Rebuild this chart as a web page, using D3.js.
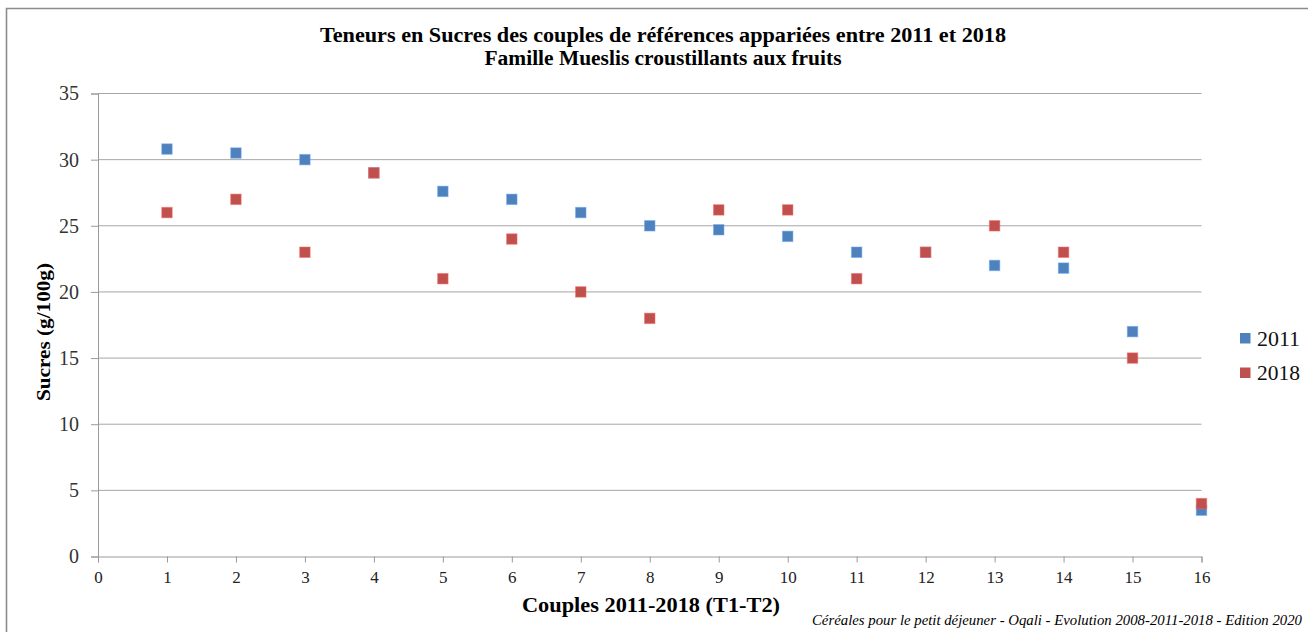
<!DOCTYPE html>
<html>
<head>
<meta charset="utf-8">
<script src="https://cdn.jsdelivr.net/npm/d3@7"></script>
<style>
  html, body { margin: 0; padding: 0; background: #fff; }
  svg { display: block; }
</style>
</head>
<body>
<svg id="chart" width="1308" height="632"></svg>
<script>
// Paired references: sugar content (g/100g) in 2011 and in 2018
const couples = [1, 2, 3, 4, 5, 6, 7, 8, 9, 10, 11, 12, 13, 14, 15, 16];
const sucres2011 = [30.8, 30.5, 30.0, 29.0, 27.6, 27.0, 26.0, 25.0, 24.7, 24.2, 23.0, 23.0, 22.0, 21.8, 17.0, 3.5];
const sucres2018 = [26.0, 27.0, 23.0, 29.0, 21.0, 24.0, 20.0, 18.0, 26.2, 26.2, 21.0, 23.0, 25.0, 23.0, 15.0, 4.0];
const xTicks = d3.range(0, 17);
const yTicks = [0, 5, 10, 15, 20, 25, 30, 35];
const seriesNames = ["2011", "2018"];
const seriesColors = ["#4f81bd", "#c0504d"];

const svg = d3.select("#chart");
const serif = "'Liberation Serif', 'DejaVu Serif', serif";

// outer frame
svg.append("path")
  .attr("d", "M6.5,632 V8.5 H1308")
  .attr("fill", "none")
  .attr("stroke", "#8c8c8c")
  .attr("stroke-width", 1.6);

const x = d3.scaleLinear().domain([0, 16]).range([98, 1201.5]);
const y = d3.scaleLinear().domain([0, 35]).range([556.5, 93.5]);

// horizontal gridlines
svg.append("g").selectAll("line")
  .data(yTicks.filter(d => d > 0))
  .join("line")
  .attr("x1", x(0)).attr("x2", x(16))
  .attr("y1", d => y(d)).attr("y2", d => y(d))
  .attr("stroke", "#a6a6a6").attr("stroke-width", 1);

// y axis
const yAxis = svg.append("g")
  .attr("transform", `translate(${x(0)},0)`)
  .call(d3.axisLeft(y).tickValues(yTicks).tickSize(7).tickPadding(12));
yAxis.select(".domain").attr("stroke", "#9a9a9a");
yAxis.selectAll(".tick line").attr("stroke", "#9a9a9a");
yAxis.selectAll(".tick text")
  .attr("font-family", serif).attr("font-size", 20).attr("fill", "#333");

// x axis
const xAxis = svg.append("g")
  .attr("transform", `translate(0,${y(0)})`)
  .call(d3.axisBottom(x).tickValues(xTicks).tickSize(6).tickPadding(8));
xAxis.select(".domain").attr("stroke", "#9a9a9a");
xAxis.selectAll(".tick line").attr("stroke", "#9a9a9a");
xAxis.selectAll(".tick text")
  .attr("font-family", serif).attr("font-size", 17).attr("fill", "#222");

// scatter points: 2011 first, 2018 drawn on top
const ms = 10.5;
[sucres2011, sucres2018].forEach((vals, i) => {
  svg.append("g").selectAll("rect")
    .data(vals)
    .join("rect")
    .attr("x", (d, j) => x(couples[j]) - ms / 2)
    .attr("y", d => y(d) - ms / 2)
    .attr("width", ms).attr("height", ms)
    .attr("fill", seriesColors[i])
    .attr("stroke", d3.color(seriesColors[i]).brighter(0.8))
    .attr("stroke-opacity", 0.5)
    .attr("stroke-width", 1);
});

// title
svg.append("text")
  .attr("x", 663).attr("y", 42)
  .attr("text-anchor", "middle")
  .attr("font-family", serif).attr("font-weight", "bold").attr("font-size", 20.5)
  .attr("textLength", 686).attr("lengthAdjust", "spacingAndGlyphs")
  .text("Teneurs en Sucres des couples de références appariées entre 2011 et 2018");
svg.append("text")
  .attr("x", 663).attr("y", 65)
  .attr("text-anchor", "middle")
  .attr("font-family", serif).attr("font-weight", "bold").attr("font-size", 20.5)
  .attr("textLength", 357).attr("lengthAdjust", "spacingAndGlyphs")
  .text("Famille Mueslis croustillants aux fruits");

// axis titles
svg.append("text")
  .attr("transform", "translate(50,332) rotate(-90)")
  .attr("text-anchor", "middle")
  .attr("font-family", serif).attr("font-weight", "bold").attr("font-size", 19.5)
  .attr("textLength", 138).attr("lengthAdjust", "spacingAndGlyphs")
  .text("Sucres  (g/100g)");
svg.append("text")
  .attr("x", 651).attr("y", 612)
  .attr("text-anchor", "middle")
  .attr("font-family", serif).attr("font-weight", "bold").attr("font-size", 20.5)
  .attr("textLength", 258).attr("lengthAdjust", "spacingAndGlyphs")
  .text("Couples 2011-2018 (T1-T2)");

// source note
svg.append("text")
  .attr("x", 1302).attr("y", 625)
  .attr("text-anchor", "end")
  .attr("font-family", serif).attr("font-style", "italic").attr("font-size", 14.5)
  .attr("textLength", 490).attr("lengthAdjust", "spacingAndGlyphs")
  .text("Céréales pour le petit déjeuner - Oqali - Evolution 2008-2011-2018 - Edition 2020");

// legend
const legend = svg.append("g").selectAll("g")
  .data(seriesNames)
  .join("g")
  .attr("transform", (d, i) => `translate(1240,${333 + i * 34.5})`);
legend.append("rect")
  .attr("width", 10.5).attr("height", 10.5)
  .attr("fill", (d, i) => seriesColors[i]);
legend.append("text")
  .attr("x", 17).attr("y", 12.5)
  .attr("font-family", serif).attr("font-size", 21).attr("fill", "#111")
  .attr("textLength", 43).attr("lengthAdjust", "spacingAndGlyphs")
  .text(d => d);
</script>
</body>
</html>
